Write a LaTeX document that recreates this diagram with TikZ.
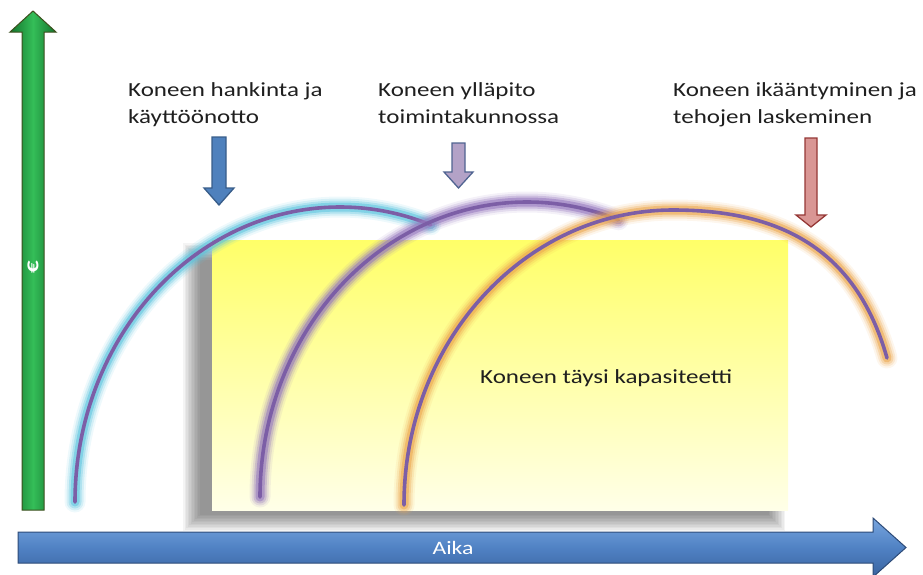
\documentclass[tikz,border=0pt]{standalone}
\usepackage{fontspec}
\setmainfont{Carlito}
\newfontfamily\slidefont[FakeStretch=1.25]{Carlito}

\definecolor{arcpurple}{RGB}{124,94,166}
\definecolor{glowcyan}{RGB}{92,196,222}
\definecolor{glowviolet}{RGB}{150,120,190}
\definecolor{gloworange}{RGB}{236,168,80}
\definecolor{yeltop}{RGB}{255,255,104}
\definecolor{yelbot}{RGB}{255,255,232}
\definecolor{axisblue}{RGB}{80,130,196}
\definecolor{axisbluelight}{RGB}{120,165,222}
\definecolor{axisbluedark}{RGB}{58,100,160}
\definecolor{axisblueline}{RGB}{45,75,120}
\definecolor{axisgreen}{RGB}{52,190,88}
\definecolor{axisgreendark}{RGB}{20,115,45}
\definecolor{axisgreenline}{RGB}{60,80,30}
\definecolor{tagblue}{RGB}{79,129,189}
\definecolor{tagblueline}{RGB}{56,93,138}
\definecolor{taglilac}{RGB}{179,162,199}
\definecolor{taglilacline}{RGB}{80,100,145}
\definecolor{tagred}{RGB}{217,150,148}
\definecolor{tagredline}{RGB}{149,55,53}

\begin{document}
\begin{tikzpicture}[x=1pt,y=-1pt,
  lbl/.style={font=\slidefont\fontsize{20}{27}\selectfont, inner sep=0pt,
              anchor=base west, text=black!88},
  curve/.style={draw=arcpurple, line width=3.6pt, line cap=round},
  glow/.style={preaction={draw=#1, line width=21pt, opacity=.10, line cap=round},
               preaction={draw=#1, line width=17pt, opacity=.18, line cap=round},
               preaction={draw=#1, line width=13pt, opacity=.3, line cap=round},
               preaction={draw=#1, line width=9pt, opacity=.55, line cap=round}},
  tagarrow/.style={line width=1.3pt, line join=miter},
]
\useasboundingbox (0,0) rectangle (923,574);

% soft shadow behind the capacity box
\foreach \d in {0,1.5,...,16.5}
  \fill[black,opacity=.045] (183+\d,243+\d) rectangle (785-\d,531-\d);

% capacity box
\shade[top color=yeltop, bottom color=yelbot] (212,240) rectangle (788,510);
\node[lbl] (kapasiteetti) at (480,383) {Koneen täysi kapasiteetti};

% life-cycle curves
\draw[curve, glow=glowcyan] (75,502)
  arc[start angle=180, end angle=290, x radius=265, y radius=295];
\draw[curve, glow=glowviolet] (260,497)
  arc[start angle=180, end angle=290, x radius=267, y radius=295];
\draw[curve, glow=gloworange] (404,505)
  arc[start angle=180, end angle=270, x radius=269, y radius=295]
  .. controls (775,210) and (855,245) .. (887,358);

% vertical axis (euro)
\shadedraw[left color=axisgreendark, right color=axisgreendark, middle color=axisgreen,
  draw=axisgreenline, line width=1pt, line join=miter]
  (22,510) -- (22,32) -- (10,32) -- (33,11) -- (56,32) -- (44,32) -- (44,510) -- cycle;
\node[rotate=90, text=white, font=\slidefont\bfseries\fontsize{20}{20}\selectfont, inner sep=0pt]
  (euro) at (33,267) {€};

% horizontal axis (time)
\shadedraw[top color=axisbluelight, bottom color=axisbluedark, middle color=axisblue,
  draw=axisblueline, line width=1pt, line join=miter]
  (18,532) -- (873,532) -- (873,518) -- (906,547.5) -- (873,577) -- (873,563) -- (18,563) -- cycle;
\node[font=\slidefont\fontsize{19}{19}\selectfont, text=white, inner sep=0pt]
  (aika) at (453,548) {Aika};

% phase labels and markers
\node[lbl] (hankintaA) at (128,96) {Koneen hankinta ja};
\node[lbl] (hankintaB) at (128,123) {käyttöönotto};
\filldraw[tagarrow, fill=tagblue, draw=tagblueline]
  (212,137) -- (226,137) -- (226,188) -- (234,188) -- (219,205) -- (204,188) -- (212,188) -- cycle;

\node[lbl] (yllapitoA) at (378,96) {Koneen ylläpito};
\node[lbl] (yllapitoB) at (378,123) {toimintakunnossa};
\filldraw[tagarrow, fill=taglilac, draw=taglilacline]
  (452,143) -- (465,143) -- (465,172) -- (473,172) -- (458.5,188) -- (444,172) -- (452,172) -- cycle;

\node[lbl] (ikaA) at (673,96) {Koneen ikääntyminen ja};
\node[lbl] (ikaB) at (673,123) {tehojen laskeminen};
\filldraw[tagarrow, fill=tagred, draw=tagredline]
  (805,138) -- (817,138) -- (817,215) -- (826,215) -- (811,227) -- (796,215) -- (805,215) -- cycle;
\end{tikzpicture}
\end{document}
